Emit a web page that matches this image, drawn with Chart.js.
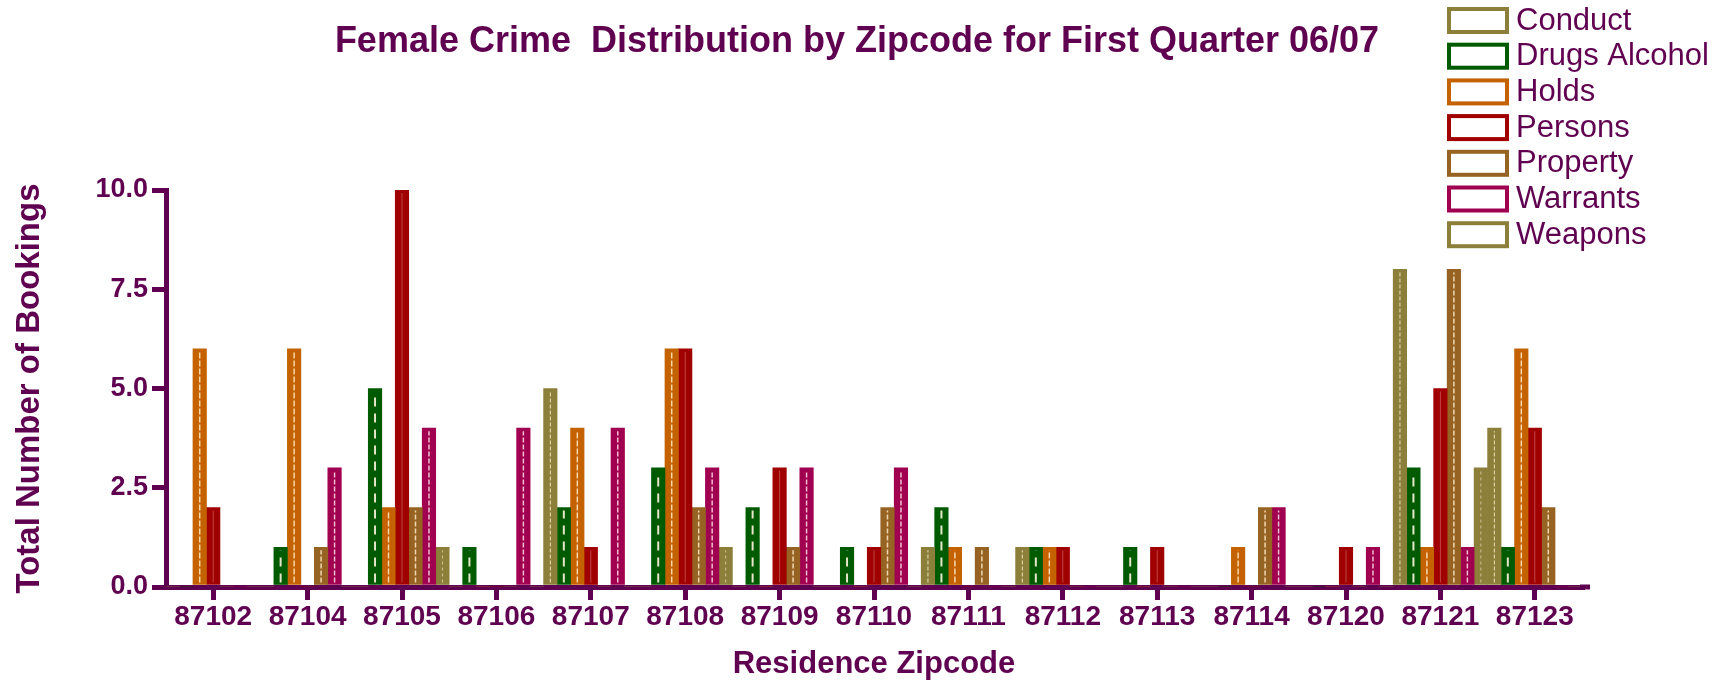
<!DOCTYPE html>
<html>
<head>
<meta charset="utf-8">
<script src="https://cdn.jsdelivr.net/npm/chart.js@4/dist/chart.umd.min.js"></script>
<style>
  body { margin: 0; background: #fff; }
  #wrap { width: 1727px; height: 683px; }
</style>
</head>
<body>
<div id="wrap"><canvas id="crimeChart" width="1727" height="683"></canvas></div>
<script>
const chartTitle = 'Female Crime  Distribution by Zipcode for First Quarter 06/07';
const zipcodes = ['87102', '87104', '87105', '87106', '87107', '87108', '87109', '87110',
    '87111', '87112', '87113', '87114', '87120', '87121', '87123'];
const seriesNames = ['Conduct', 'Drugs Alcohol', 'Holds', 'Persons', 'Property', 'Warrants', 'Weapons'];
const conduct      = [0, 0, 0, 0, 5, 0, 0, 0, 1, 1, 0, 0, 0, 8, 4];
const drugsAlcohol = [0, 1, 5, 1, 2, 3, 2, 1, 2, 1, 1, 0, 0, 3, 1];
const holds        = [6, 6, 2, 0, 4, 6, 0, 0, 1, 1, 0, 1, 0, 1, 6];
const persons      = [2, 0, 10, 0, 1, 6, 3, 1, 0, 1, 1, 0, 1, 5, 4];
const property     = [0, 1, 2, 0, 0, 2, 1, 2, 1, 0, 0, 2, 0, 8, 2];
const warrants     = [0, 3, 4, 4, 4, 3, 3, 3, 0, 0, 0, 2, 1, 1, 0];
const weapons      = [0, 0, 1, 0, 0, 1, 0, 0, 0, 0, 0, 0, 0, 3, 0];
const yTicks = [0, 2.5, 5, 7.5, 10];

const ink = '#600050';
const colors = ['#8c7f3a', '#005a00', '#c46200', '#a00000', '#966322', '#a0004f', '#8c7f3a'];
// white centre stripe on each bar: [dash pattern, width, colour]
const stripes = [
    [[4, 2], 1, 'rgba(255,240,210,0.85)'],
    [[9, 7], 2, 'rgba(255,245,225,0.9)'],
    [[6, 2], 1.5, 'rgba(255,235,200,0.85)'],
    [[], 1, 'rgba(255,200,200,0.35)'],
    [[5, 2], 1.5, 'rgba(255,235,200,0.85)'],
    [[5, 2], 1.5, 'rgba(255,225,235,0.85)'],
    [[3, 3], 1, 'rgba(255,240,210,0.6)'],
];
const seriesData = [conduct, drugsAlcohol, holds, persons, property, warrants, weapons];

const barStripes = {
    id: 'barStripes',
    afterDatasetsDraw(chart) {
        const ctx = chart.ctx;
        chart.data.datasets.forEach((ds, i) => {
            const [dash, w, col] = stripes[i];
            chart.getDatasetMeta(i).data.forEach((bar, j) => {
                if (!(ds.data[j] > 0)) return;
                const p = bar.getProps(['x', 'y', 'base'], true);
                ctx.save();
                ctx.strokeStyle = col;
                ctx.lineWidth = w;
                ctx.setLineDash(dash);
                ctx.beginPath();
                ctx.moveTo(p.x, p.base - 2);
                ctx.lineTo(p.x, p.y + 3);
                ctx.stroke();
                ctx.restore();
            });
        });
    },
};

const header = {
    id: 'header',
    afterDraw(chart) {
        const ctx = chart.ctx;
        const area = chart.chartArea;
        ctx.save();
        // x axis line runs a little past the last category
        ctx.strokeStyle = ink;
        ctx.lineWidth = 5;
        ctx.beginPath();
        ctx.moveTo(area.right - 2, area.bottom);
        ctx.lineTo(area.right + 8, area.bottom);
        ctx.stroke();

        ctx.fillStyle = ink;
        ctx.font = 'bold 36px "Liberation Sans", Arial, sans-serif';
        ctx.textAlign = 'center';
        ctx.textBaseline = 'middle';
        ctx.fillText(chartTitle, 857, 42);

        // legend, top right
        ctx.font = '31px "Liberation Sans", Arial, sans-serif';
        ctx.textAlign = 'left';
        chart.data.datasets.forEach((ds, i) => {
            const cy = 20 + i * 35.7;
            ctx.strokeStyle = ds.backgroundColor;
            ctx.lineWidth = 4;
            ctx.setLineDash([]);
            ctx.strokeRect(1449, cy - 11, 58, 23);
            ctx.fillStyle = ink;
            ctx.fillText(ds.label, 1516, cy + 1);
        });
        ctx.restore();
    },
};

new Chart(document.getElementById('crimeChart'), {
    type: 'bar',
    data: {
        labels: zipcodes,
        datasets: seriesNames.map((name, i) => ({
            label: name,
            data: seriesData[i],
            backgroundColor: colors[i],
            borderWidth: 0,
            barPercentage: 1,
            categoryPercentage: 1,
        })),
    },
    options: {
        responsive: false,
        animation: false,
        layout: {padding: {left: 0, right: 145, top: 190, bottom: 0}},
        plugins: {
            legend: {display: false},
            title: {display: false},
            tooltip: {enabled: false},
        },
        scales: {
            x: {
                z: 1,
                afterFit: (s) => { s.height = 96; },
                grid: {
                    drawOnChartArea: false,
                    offset: false,
                    color: ink,
                    lineWidth: 5,
                    tickLength: 13,
                },
                border: {color: ink, width: 5},
                ticks: {
                    color: ink,
                    padding: 0,
                    maxRotation: 0,
                    font: {family: '"Liberation Sans", Arial', size: 28, weight: 'bold'},
                },
                title: {
                    display: true,
                    text: 'Residence Zipcode',
                    color: ink,
                    padding: {top: 0, bottom: 0},
                    font: {family: '"Liberation Sans", Arial', size: 31, weight: 'bold'},
                },
            },
            y: {
                z: 1,
                min: 0,
                max: 10,
                afterFit: (s) => { s.width = 166; },
                afterBuildTicks: (s) => { s.ticks = yTicks.map((v) => ({value: v})); },
                grid: {
                    drawOnChartArea: false,
                    color: ink,
                    lineWidth: 5,
                    tickLength: 14,
                },
                border: {color: ink, width: 5},
                ticks: {
                    color: ink,
                    padding: 4,
                    callback: (v) => Number(v).toFixed(1),
                    font: {family: '"Liberation Sans", Arial', size: 27, weight: 'bold'},
                },
                title: {
                    display: true,
                    text: 'Total Number of Bookings',
                    color: ink,
                    padding: {top: 10, bottom: 0},
                    font: {family: '"Liberation Sans", Arial', size: 33, weight: 'bold'},
                },
            },
        },
    },
    plugins: [barStripes, header],
});
</script>
</body>
</html>
